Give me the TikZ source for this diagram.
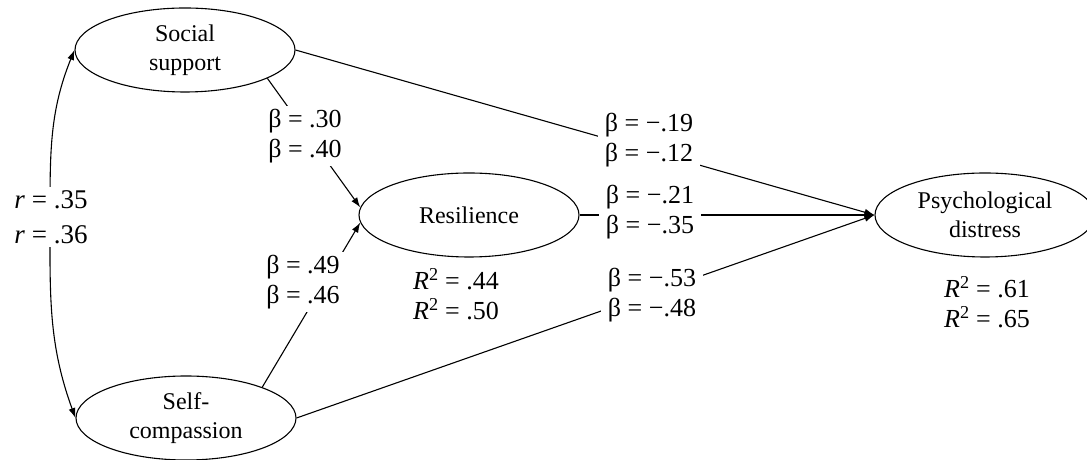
\documentclass[tikz,border=0pt]{standalone}
\usepackage{fontspec}
\setmainfont{Liberation Serif}
\usetikzlibrary{shapes.geometric,arrows.meta}

\tikzset{
  latent/.style={ellipse,draw,line width=1.1pt,minimum width=220pt,minimum height=84pt,
    inner sep=0pt,align=center,font=\fontsize{24}{29}\selectfont},
  coef/.style={fill=white,inner xsep=7pt,inner ysep=3pt,align=left,
    font=\fontsize{26}{30}\selectfont},
  arr/.style={line width=1.1pt,-{Latex[length=10pt,width=7pt]}}
}

\begin{document}
\begin{tikzpicture}[x=1pt,y=1pt]
\useasboundingbox (0,0) rectangle (1087,460);

% latent variables
\node[latent] (ss) at (185,410) {Social\\support};
\node[latent] (sc) at (186,42) {Self-\\compassion};
\node[latent] (res) at (469,245) {Resilience};
\node[latent] (pd) at (985,245) {Psychological\\distress};

% correlation between predictors
\coordinate (rmid) at (50,244);
\draw[line width=1.1pt,{Latex[length=10pt,width=7pt]}-{Latex[length=10pt,width=7pt]}]
  (ss.west) to[out=248,in=90] (rmid) to[out=-90,in=110] (sc.west);

% paths
\draw[arr] (ss.-19) -- (res.176);
\draw[arr] (sc.22) -- (res.184);
\foreach \src in {ss,res,sc}{
  \draw[arr] (\src.east) -- (pd.west);
}

% coefficients
\node[coef,font=\fontsize{27}{35}\selectfont] (rcor) at (51,243) {\textit{r} = .35\\\textit{r} = .36};
\node[coef] (bssres) at (305,324) {β = .30\\β = .40};
\node[coef] (bscres) at (303,178) {β = .49\\β = .46};
\node[coef] (bsspd) at (649,320) {β = −.19\\β = −.12};
\node[coef] (brespd) at (650,248) {β = −.21\\β = −.35};
\node[coef] (bscpd) at (652,165) {β = −.53\\β = −.48};

% explained variance
\node[coef] (rres) at (456,166) {\textit{R}\textsuperscript{2} = .44\\\textit{R}\textsuperscript{2} = .50};
\node[coef] (rpd) at (987,158) {\textit{R}\textsuperscript{2} = .61\\\textit{R}\textsuperscript{2} = .65};

\end{tikzpicture}
\end{document}
